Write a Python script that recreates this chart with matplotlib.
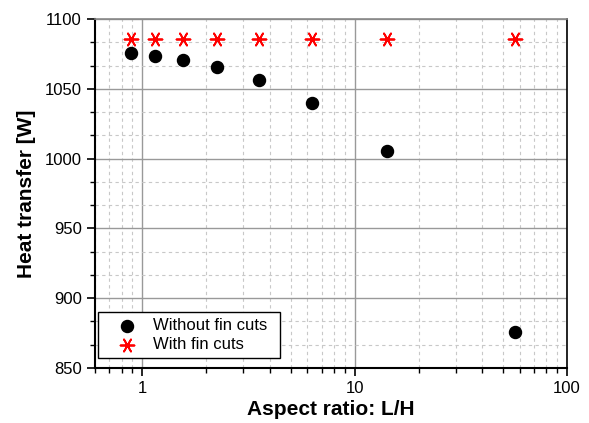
import matplotlib
matplotlib.use("Agg")
import matplotlib.pyplot as plt
from matplotlib.ticker import MultipleLocator, FixedLocator, LogLocator, NullFormatter, FuncFormatter

aspect_ratio = [0.885, 1.155, 1.564, 2.26, 3.55, 6.31, 14.2, 57.1]
without_cuts = [1075.5, 1073.5, 1070.5, 1065.5, 1056.5, 1040.0, 1005.5, 876.0]
with_cuts = [1086, 1086, 1086, 1086, 1086, 1086, 1086, 1086]
x_ticks = [1, 10, 100]
x_labels = ["1", "10", "100"]
y_ticks = [850, 900, 950, 1000, 1050, 1100]

plt.rcParams['font.family'] = ['Liberation Sans', 'DejaVu Sans']

fig = plt.figure(figsize=(5.89, 4.23), dpi=100)
ax = fig.add_axes([95/589, 1-368/423, (567-95)/589, (368-19)/423])

ax.set_xscale('log')
ax.set_xlim(0.6, 100)
ax.set_ylim(850, 1100)

ax.scatter(aspect_ratio, without_cuts, s=75, color='black', marker='o', label='Without fin cuts', zorder=3)
ax.scatter(aspect_ratio, with_cuts, s=100, color='red', marker=(6, 2, 90), linewidths=1.3, label='With fin cuts', zorder=3)

ax.xaxis.set_major_locator(FixedLocator(x_ticks))
ax.xaxis.set_major_formatter(FuncFormatter(lambda v, p: x_labels[x_ticks.index(round(v))] if round(v) in x_ticks else ""))
ax.xaxis.set_minor_locator(LogLocator(base=10, subs=range(2, 10), numticks=20))
ax.xaxis.set_minor_formatter(NullFormatter())
ax.yaxis.set_major_locator(FixedLocator(y_ticks))
ax.yaxis.set_minor_locator(MultipleLocator(50/3))

ax.grid(which='major', color='#999999', linestyle='-', linewidth=1.0)
ax.grid(which='minor', color='#c8c8c8', linestyle=(0, (3, 3)), linewidth=0.8)
ax.set_axisbelow(True)

ax.tick_params(which='major', direction='out', length=6, width=1.2, labelsize=12, top=False, right=False)
ax.tick_params(which='minor', direction='out', length=3.5, width=1.0, top=False, right=False)

for sp in ['left', 'bottom']:
    ax.spines[sp].set_linewidth(1.5)
ax.spines['right'].set_linewidth(1.2)
ax.spines['top'].set_color('#888888')
ax.spines['top'].set_linewidth(1.2)

ax.set_xlabel('Aspect ratio: L/H', fontsize=15, fontweight='bold', labelpad=3)
ax.set_ylabel('Heat transfer [W]', fontsize=15, fontweight='bold', labelpad=6)

leg = ax.legend(loc='lower left', bbox_to_anchor=(0.006, 0.029, 0.386, 0.1), mode='expand',
                fontsize=12, frameon=True, fancybox=False,
                edgecolor='black', framealpha=1, borderpad=0.35, handletextpad=0.1, labelspacing=0.25,
                handlelength=2.85, borderaxespad=0)
leg.get_frame().set_linewidth(1.0)

fig.savefig('out.png', dpi=100)
